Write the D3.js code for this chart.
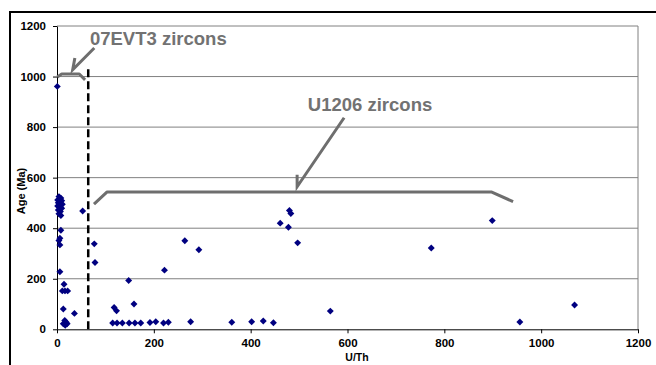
<!DOCTYPE html>
<html><head><meta charset="utf-8">
<script src="https://cdn.jsdelivr.net/npm/d3@7"></script>
<style>body{margin:0;background:#fff}svg{display:block}text{font-family:Arial,"Liberation Sans",sans-serif}</style>
</head><body><svg id="c" width="656" height="365"></svg>
<script>
// U/Th values
const uth = [0.6,
  4,8,1.4,9.7,2.7,7,11,1.4,5.5,9.7,2.7,7,4,8,
  53,
  8,6,4,6,
  6,14.5,11,16.5,22,
  13,36,
  13,16,19,21,17,
  77,78.5,
  118,123,159,148,222,264,293,
  115,124,135,149,161,173,192,204,220,230,276,361,
  402,426,447,
  461,478,480,483,497,
  564.5,773,899,956,1069];
// Age (Ma)
const age = [961,
  525,519,512,509,501,499,495,488,483,479,472,466,457,450,
  468,
  392,360,351,334,
  228,178,152,152,152,
  80,63,
  22,35,28,22,16,
  338,264,
  86,73,100,193,234,350,315,
  25,25,25,25,25,25,27,30,25,28,30,28,
  30,33,26,
  420,404,470,458,342,
  72,322,430,29,96];
const xTicks = [0,200,400,600,800,1000,1200];
const yTicks = [0,200,400,600,800,1000,1200];
// annotation geometry in data units
const dashX = [64.5, 64.5], dashY = [0, 1040];
const evtBracketX = [0.6, 9.7, 46, 58], evtBracketY = [998, 1010, 1010, 987];
const evtArrowX = [77, 32.4], evtArrowY = [1113, 1027];
const uBracketX = [76.4, 103, 898, 942], uBracketY = [495, 543, 543, 505];
const uArrowX = [593, 496], uArrowY = [837, 564];
const labels = [{t:"07EVT3 zircons", x:68, y:1126}, {t:"U1206 zircons", x:518, y:864}];

const svg = d3.select("#c");
const x = d3.scaleLinear().domain([0,1200]).range([57,638]);
const y = d3.scaleLinear().domain([0,1200]).range([329.3,26]);

// outer frame
svg.append("path").attr("d","M10,365V12H656").attr("fill","none").attr("stroke","#000").attr("stroke-width",2);

// grid
svg.append("g").selectAll("line").data(yTicks.filter(d=>d>0)).join("line")
  .attr("x1",x(0)).attr("x2",x(1200)).attr("y1",d=>y(d)).attr("y2",d=>y(d))
  .attr("stroke","#808080").attr("stroke-width",1);
svg.append("line").attr("x1",x(1200)).attr("x2",x(1200)).attr("y1",y(0)).attr("y2",y(1200))
  .attr("stroke","#808080").attr("stroke-width",1);

// axes
const fmt = d3.format("d");
const yAxis = svg.append("g").attr("transform",`translate(${x(0)},0)`)
  .call(d3.axisLeft(y).tickValues(yTicks).tickFormat(fmt).tickSize(4).tickSizeOuter(0).tickPadding(7));
const xAxis = svg.append("g").attr("transform",`translate(0,${y(0)})`)
  .call(d3.axisBottom(x).tickValues(xTicks).tickFormat(fmt).tickSize(4).tickSizeOuter(0).tickPadding(6));
[yAxis,xAxis].forEach(a=>{
  a.selectAll("path,line").attr("stroke","#000");
  a.selectAll("text").attr("font-size",11.5).attr("font-weight","bold").attr("fill","#000")
   .attr("font-family","Arial, 'Liberation Sans', sans-serif");
});

svg.append("text").attr("x",357).attr("y",361).attr("text-anchor","middle")
  .attr("font-size",10.5).attr("font-weight","bold").text("U/Th");
svg.append("text").attr("transform","translate(25,191) rotate(-90)").attr("text-anchor","middle")
  .attr("font-size",11).attr("font-weight","bold").text("Age (Ma)");

// dashed line
svg.append("line").attr("x1",x(dashX[0])).attr("x2",x(dashX[1])).attr("y1",y(dashY[0])).attr("y2",y(dashY[1]))
  .attr("stroke","#000").attr("stroke-width",2.5).attr("stroke-dasharray","8,4");

const line = d3.line().curve(d3.curveLinear);
const gray = "#6e6e6e";
function pts(xs,ys){return xs.map((v,i)=>[x(v),y(ys[i])]);}
svg.append("path").attr("d",line(pts(evtBracketX,evtBracketY))).attr("fill","none").attr("stroke",gray).attr("stroke-width",3).attr("stroke-linejoin","round");
svg.append("path").attr("d",line(pts(uBracketX,uBracketY))).attr("fill","none").attr("stroke",gray).attr("stroke-width",3).attr("stroke-linejoin","round");

function arrow(xs,ys){
  const p = pts(xs,ys);
  const [x0,y0]=p[0],[x1,y1]=p[1];
  const ang = Math.atan2(y0-y1,x0-x1);
  const b = ang - 0.6, L = 12;
  svg.append("path").attr("d",line([p[0],p[1],[x1+L*Math.cos(b),y1+L*Math.sin(b)]]))
    .attr("fill","none").attr("stroke",gray).attr("stroke-width",3).attr("stroke-linejoin","miter");
}
arrow(evtArrowX,evtArrowY);
arrow(uArrowX,uArrowY);

svg.append("g").selectAll("text").data(labels).join("text")
  .attr("x",d=>x(d.x)).attr("y",d=>y(d.y)).attr("font-size",18.5).attr("font-weight","bold")
  .attr("fill","#727272").text(d=>d.t);

// points
const sym = d3.symbol().type(d3.symbolSquare).size(24);
svg.append("g").selectAll("path").data(uth.map((v,i)=>[v,age[i]])).join("path")
  .attr("d",sym).attr("transform",d=>`translate(${x(d[0])},${y(d[1])}) rotate(45)`)
  .attr("fill","#000080");
</script></body></html>
